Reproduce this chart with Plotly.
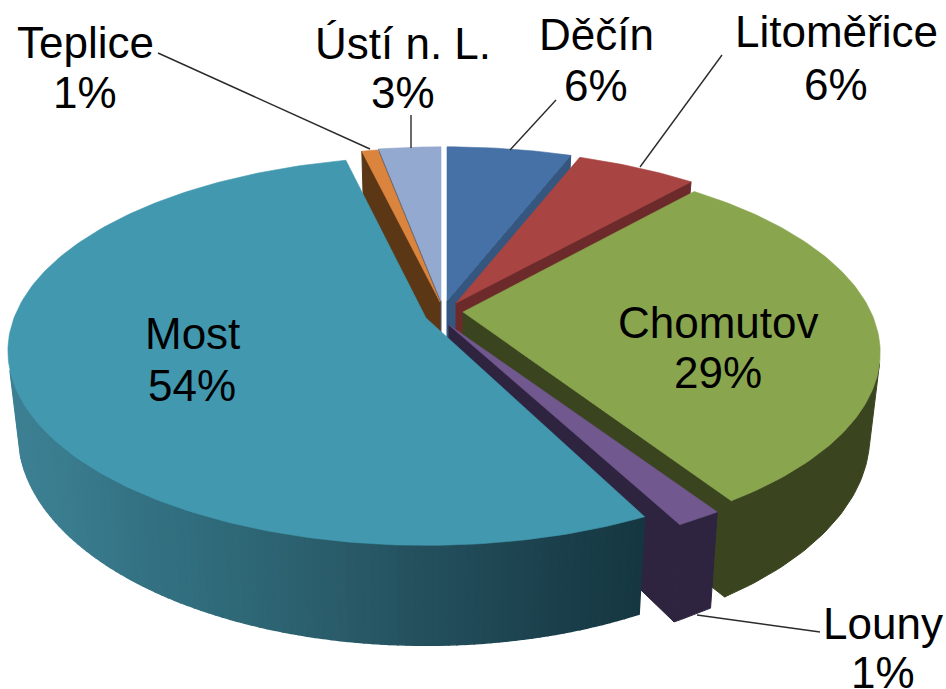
import math
import plotly.graph_objects as go

# ---- data (clockwise from 12 o'clock) ----
names = ["Děčín", "Litoměřice", "Chomutov", "Louny", "Most", "Teplice", "Ústí n. L."]
values = [5.8, 5.6, 29.49, 1.49, 53.98, 0.75, 2.89]

# ---- styling ----
top_colors = ["#4571A6", "#A84442", "#89A54E", "#71588F", "#4198AF", "#DB843D", "#93A9CF"]
face_colors = ["#34567F", "#6C2B2A", "#3A4520", "#2E2440", "#1B3F4A", "#5C3716", "#4A5568"]
apex_x = [447, 456, 463, 449, 426, 440, 441]
apex_y = [301, 303, 312, 325, 318, 302, 301]
radius_scale = [1.0, 1.0, 0.99, 1.0, 1.0, 1.0, 1.0]
perspective = [0.20, 0.20, 0.21, 0.20, 0.17, 0.20, 0.20]
height_scale = [1.0, 1.0, 1.01, 1.0, 1.02, 1.0, 1.0]
start_trim = [0, 0, 0, 0, 0.012, 0, 0]     # radians, projection correction
draw_order = [6, 5, 0, 1, 2, 3, 4]
label_x = [596, 836, 718, 883, 192, 85, 403]
name_y = [34, 31, 322, 623, 333, 42, 43]
pct_y = [85, 84, 372, 672, 385, 92, 92]
leader_x0 = [556, 722, None, 820, None, 158, 411]
leader_y0 = [100, 55, None, 632, None, 53, 115]
leader_x1 = [510, 640, None, 697, None, 370, 411]
leader_y1 = [150, 167, None, 615, None, 149, 148]
most_wall_x = [0, 60, 130, 200, 300, 420, 520, 650]
most_wall_rgb = [(62, 128, 148), (58, 125, 143), (52, 115, 132), (48, 108, 124),
                 (44, 96, 110), (36, 80, 94), (29, 68, 80), (21, 54, 64)]

RX, RY = 412, 185              # ellipse radii
DEPTH, SHRINK = 80, 0.975      # pie thickness, bottom-rim convergence
WALL_FROM = 0.25               # where the rim silhouette starts showing the wall
FONT = "Liberation Sans, Arial, sans-serif"
FSIZE = 44


def rim(i, a):
    """Top-rim point for clock angle a (radians) of slice i, through the slice's centre."""
    c, s = math.sin(a), -math.cos(a)
    d = 1 - perspective[i] * s
    r = radius_scale[i]
    return apex_x[i] + r * RX * c / d, apex_y[i] + r * height_scale[i] * RY * s / d


def drop(i, x, y, s):
    """Point on the bottom plane under the top point (x, y)."""
    return apex_x[i] + (x - apex_x[i]) * SHRINK, y + DEPTH / (1 - 0.20 * s)


def poly(fig, pts, color, width=1.0):
    xs = [p[0] for p in pts] + [pts[0][0]]
    ys = [p[1] for p in pts] + [pts[0][1]]
    fig.add_trace(go.Scatter(x=xs, y=ys, mode="lines", fill="toself", fillcolor=color,
                             line=dict(color=color, width=width), hoverinfo="skip", showlegend=False))


def gradient_color(x):
    for j in range(len(most_wall_x) - 1):
        if x <= most_wall_x[j + 1]:
            t = (x - most_wall_x[j]) / (most_wall_x[j + 1] - most_wall_x[j])
            a, b = most_wall_rgb[j], most_wall_rgb[j + 1]
            return "rgb(%d,%d,%d)" % tuple(round(a[n] + (b[n] - a[n]) * t) for n in range(3))
    return "rgb(%d,%d,%d)" % most_wall_rgb[-1]


total = sum(values)
starts, ends, run = [], [], 0.0
for i, v in enumerate(values):
    starts.append(run / total * 2 * math.pi + start_trim[i])
    run += v
    ends.append(run / total * 2 * math.pi)

fig = go.Figure()

for i in draw_order:
    a0, a1 = starts[i], ends[i]
    ax, ay = apex_x[i], apex_y[i]
    # radial cut faces that look towards the viewer
    for a, visible in ((a0, math.sin(a0) < 0), (a1, math.sin(a1) > 0)):
        if visible and a1 - a0 < math.pi:
            x, y = rim(i, a)
            s = -math.cos(a)
            bx, by = drop(i, x, y, s)
            cx, cy = drop(i, ax, ay, 0)
            poly(fig, [(ax, ay), (x, y), (bx, by), (cx, cy)], face_colors[i])
    # outer wall
    n = max(2, int((a1 - a0) / (2 * math.pi) * 360))
    angles = [a0 + (a1 - a0) * t / n for t in range(n + 1)]
    front = [a for a in angles if -math.cos(a) > WALL_FROM]
    if i == 4:
        # Most: horizontal gradient, drawn piece by overlapping piece
        for p, q in zip(front, front[1:]):
            x0, y0 = rim(i, p)
            x1, y1 = rim(i, q)
            b0 = drop(i, x0, y0, -math.cos(p))
            b1 = drop(i, x1, y1, -math.cos(q))
            poly(fig, [(x0, y0), (x1, y1), b1, b0], gradient_color((x0 + x1) / 2), width=1.5)
    elif len(front) > 1:
        upper = [rim(i, a) for a in front]
        lower = [drop(i, *rim(i, a), -math.cos(a)) for a in front]
        poly(fig, upper + lower[::-1], face_colors[i])
    # top surface
    poly(fig, [(ax, ay)] + [rim(i, a) for a in angles], top_colors[i], width=0.6)

for i in range(len(names)):
    if leader_x0[i] is not None:
        fig.add_trace(go.Scatter(x=[leader_x0[i], leader_x1[i]], y=[leader_y0[i], leader_y1[i]],
                                 mode="lines", line=dict(color="#2b2b2b", width=1.4),
                                 hoverinfo="skip", showlegend=False))
    for text, y in ((names[i], name_y[i]), ("%d%%" % round(values[i]), pct_y[i])):
        fig.add_annotation(x=label_x[i], y=y, text=text, showarrow=False,
                           xanchor="center", yanchor="middle",
                           font=dict(family=FONT, size=FSIZE, color="#000000"))

fig.update_layout(
    width=946, height=689, margin=dict(l=0, r=0, t=0, b=0),
    paper_bgcolor="white", plot_bgcolor="white", showlegend=False,
    xaxis=dict(range=[0, 946], visible=False, fixedrange=True),
    yaxis=dict(range=[689, 0], visible=False, fixedrange=True),
)
fig.write_html("out.html", config={"displayModeBar": False},
               post_script="document.body.style.margin='0';")
